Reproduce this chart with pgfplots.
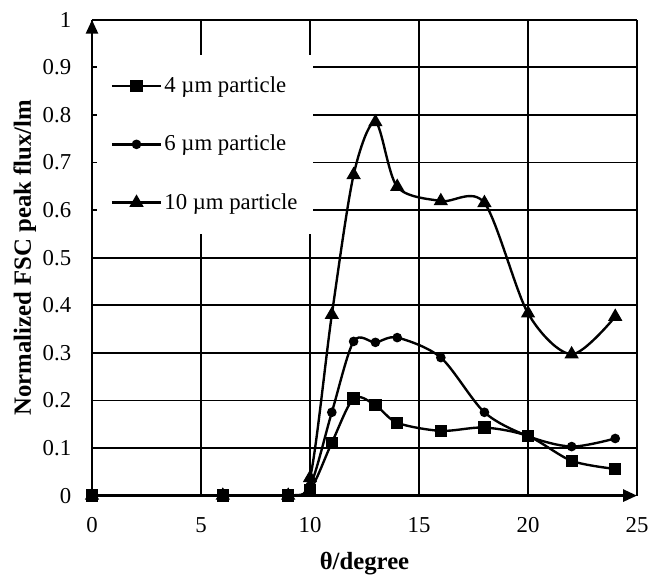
\documentclass[border=0pt]{standalone}
\usepackage{fontspec}
\setmainfont{Liberation Serif}
\usepackage{pgfplots}
\pgfplotsset{compat=1.18}
\usetikzlibrary{arrows.meta}

\pgfplotstableread{
x y
0 0
6 0
9 0
10 0.012
11 0.111
12 0.204
13 0.190
14 0.153
16 0.136
18 0.143
20 0.125
22 0.073
24 0.056
}\tabA
\pgfplotstableread{
x y
0 0
6 0
9 0
10 0.020
11 0.175
12 0.324
13 0.322
14 0.332
16 0.290
18 0.175
20 0.125
22 0.103
24 0.120
}\tabB
\pgfplotstableread{
x y
0 0
6 0
9 0
10 0.037
11 0.380
12 0.674
13 0.785
14 0.649
16 0.619
18 0.615
20 0.383
22 0.297
24 0.376
}\tabC

\begin{document}
\begin{tikzpicture}
\begin{axis}[
  scale only axis, width=275.5pt, height=240.5pt,
  xmin=0, xmax=25, ymin=0, ymax=1,
  xtick={0,5,...,25},
  ytick={0,0.1,...,1},
  yticklabels={0,0.1,0.2,0.3,0.4,0.5,0.6,0.7,0.8,0.9,1},
  axis x line=bottom, axis y line=left,
  x axis line style={line width=1.4pt, -{Triangle[length=7pt,width=6pt]}},
  y axis line style={line width=1.4pt, -{Triangle[length=7pt,width=6pt]}},
  grid=major, grid style={black, line width=0.9pt},
  major tick length=0pt,
  /pgf/number format/assume math mode=true,
  tick label style={font=\fontsize{11.5}{13}\selectfont},
  xticklabel style={yshift=-7.5pt},
  yticklabel style={xshift=-7pt},
  xlabel={θ/degree},
  ylabel={Normalized FSC peak flux/lm},
  every axis x label/.style={at={(axis description cs:0.5,-0.1435)}, anchor=center,
    font=\fontsize{12.5}{14}\selectfont\bfseries},
  every axis y label/.style={at={(axis description cs:-0.1235,0.5)}, rotate=90, anchor=center,
    font=\fontsize{12.5}{14}\selectfont\bfseries},
  legend cell align=left,
  legend style={at={(axis description cs:0.008,0.927)}, anchor=north west,
    draw=none, fill=white, inner xsep=7pt, inner ysep=9pt,
    font=\fontsize{11.5}{13}\selectfont, row sep=16pt,
    nodes={inner xsep=1pt}},
  legend image code/.code={\draw[mark repeat=2,mark phase=2,#1]
    plot coordinates {(0pt,0pt) (12.5pt,0pt) (25pt,0pt)};},
]
\addplot[black, line width=1.2pt, smooth, mark=square*, mark size=2.5pt] table[x=x,y=y] {\tabA};
\addplot[black, line width=1.2pt, smooth, mark=*, mark size=1.8pt] table[x=x,y=y] {\tabB};
\addplot[black, line width=1.2pt, smooth, mark=triangle*, mark size=3pt] table[x=x,y=y] {\tabC};
\legend{4 µm particle, 6 µm particle, 10 µm particle}
\end{axis}
\path (current axis.south west) ++(-46.5pt,-42pt) rectangle ++(327.5pt,292.5pt);
\end{tikzpicture}
\end{document}
